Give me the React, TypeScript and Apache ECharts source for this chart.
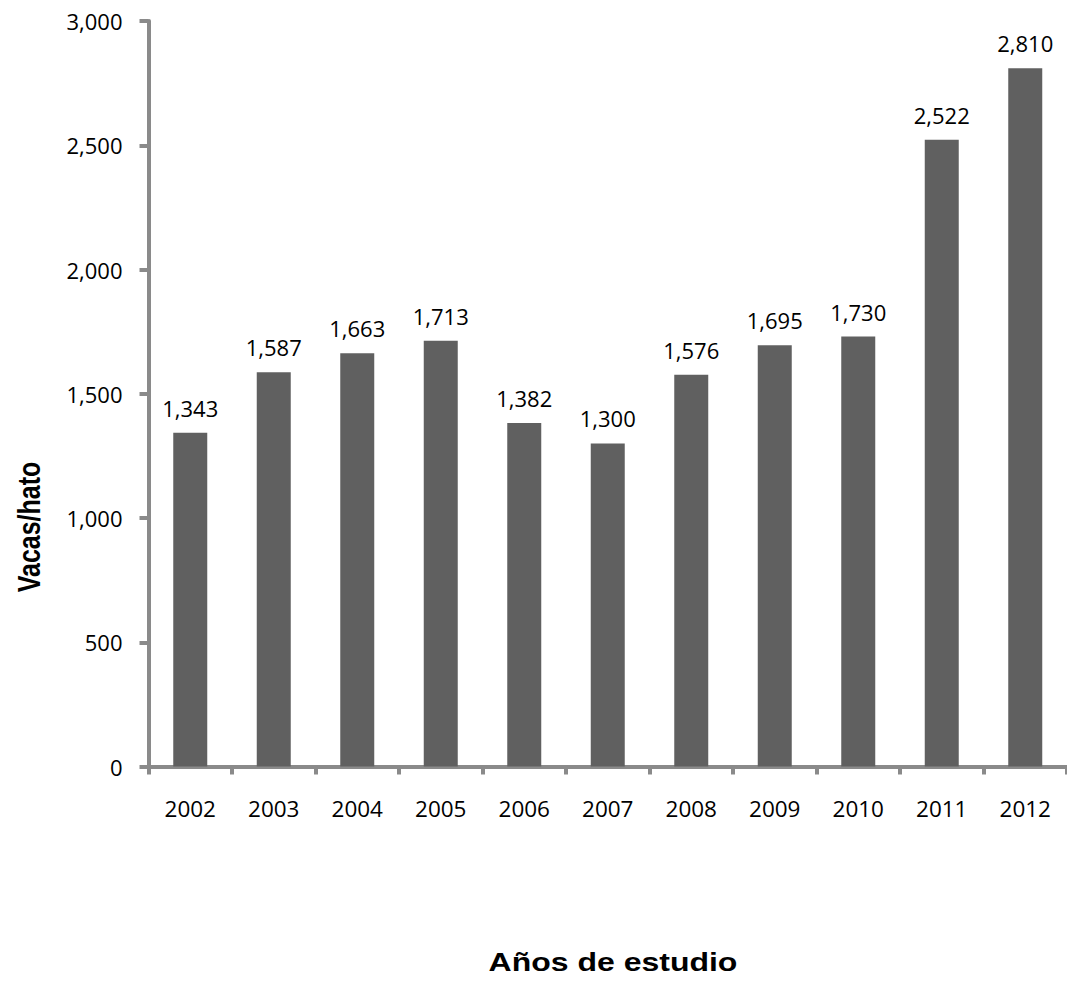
import React, { useEffect, useRef } from "react";
import * as echarts from "echarts";

// Herd size per study year
const years = ["2002", "2003", "2004", "2005", "2006", "2007", "2008", "2009", "2010", "2011", "2012"];
const cowsPerHerd = [1343, 1587, 1663, 1713, 1382, 1300, 1576, 1695, 1730, 2522, 2810];
const yTicks = { min: 0, max: 3000, interval: 500 };

const axisGray = "#8a8a8a";
const barGray = "#606060";
const labelFont = "'Open Sans', 'DejaVu Sans', sans-serif";
const titleFont = "'Liberation Sans', Arial, sans-serif";

const fmt = (v: number) => v.toLocaleString("en-US");

export default function App() {
  const ref = useRef<HTMLDivElement>(null);

  useEffect(() => {
    if (!ref.current) return;
    const chart = echarts.init(ref.current, undefined, { renderer: "svg" });
    chart.setOption({
      animation: false,
      backgroundColor: "#ffffff",
      grid: { left: 148.5, top: 21, width: 924, height: 745.5, containLabel: false },
      xAxis: {
        type: "category",
        data: years,
        boundaryGap: true,
        axisLine: { lineStyle: { color: axisGray, width: 4 } },
        axisTick: { show: true, length: 8, lineStyle: { color: axisGray, width: 4 } },
        axisLabel: { color: "#000", fontFamily: labelFont, fontSize: 22.5, margin: 30 },
        splitLine: { show: false },
      },
      yAxis: {
        type: "value",
        min: yTicks.min,
        max: yTicks.max,
        interval: yTicks.interval,
        axisLine: { show: true, lineStyle: { color: axisGray, width: 4 } },
        axisTick: { show: true, length: 9, lineStyle: { color: axisGray, width: 4 } },
        axisLabel: {
          color: "#000",
          fontFamily: labelFont,
          fontSize: 22,
          margin: 26,
          formatter: (v: number) => fmt(v),
        },
        splitLine: { show: false },
      },
      series: [
        {
          type: "bar",
          data: cowsPerHerd,
          barWidth: 34,
          itemStyle: { color: barGray },
          label: {
            show: true,
            position: "top",
            distance: 14,
            color: "#000",
            fontFamily: labelFont,
            fontSize: 22,
            formatter: (p: any) => fmt(p.value),
          },
        },
      ],
      graphic: [
        {
          type: "text",
          x: 29,
          y: 527,
          rotation: Math.PI / 2,
          scaleY: 1.28,
          style: {
            text: "Vacas/hato",
            fontFamily: titleFont,
            fontWeight: "bold",
            fontSize: 25,
            fill: "#000",
            textAlign: "center",
            textVerticalAlign: "middle",
          },
        },
        {
          type: "text",
          x: 613,
          y: 962,
          scaleX: 1.28,
          style: {
            text: "Años de estudio",
            fontFamily: titleFont,
            fontWeight: "bold",
            fontSize: 25,
            fill: "#000",
            textAlign: "center",
            textVerticalAlign: "middle",
          },
        },
      ],
    });
    return () => chart.dispose();
  }, []);

  return (
    <div
      ref={ref}
      style={{ position: "fixed", left: 0, top: 0, width: 1067, height: 983, background: "#fff" }}
    />
  );
}
